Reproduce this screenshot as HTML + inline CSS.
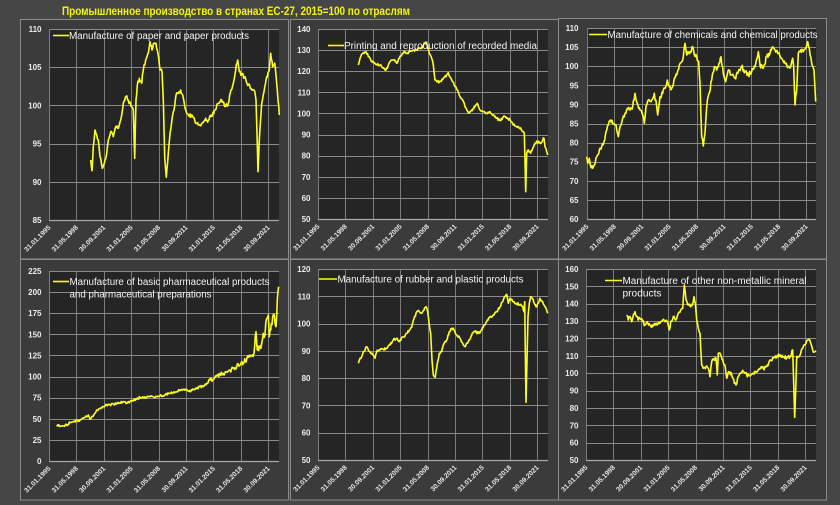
<!DOCTYPE html>
<html><head><meta charset="utf-8">
<style>
html,body{margin:0;padding:0;background:#464646;width:840px;height:505px;overflow:hidden;}
svg{display:block;}
.yt{font-family:"Liberation Sans",sans-serif;font-size:8px;font-weight:bold;fill:#ececec;text-anchor:end;}
.xt{font-family:"Liberation Sans",sans-serif;font-size:6.8px;font-weight:bold;fill:#e8e8e8;text-anchor:end;}
.lg{font-family:"Liberation Sans",sans-serif;font-size:10px;fill:#f4f4f4;}
.ser{fill:none;stroke:#ffff1e;stroke-width:1.6;stroke-linejoin:round;}
.frame{fill:#3b3b3b;stroke:#8c8c8c;stroke-width:1;}
.plot{fill:#252525;}
.lgl{stroke:#ffff1e;stroke-width:1.6;}
</style></head><body>
<svg width="840" height="505" viewBox="0 0 840 505" xmlns="http://www.w3.org/2000/svg">
<rect x="0" y="0" width="840" height="505" fill="#464646"/>
<text x="62" y="15" font-family="'Liberation Sans',sans-serif" font-size="11.5" font-weight="bold" fill="#f5f500" textLength="348" lengthAdjust="spacingAndGlyphs">Промышленное производство в странах ЕС-27, 2015=100 по отраслям</text>

<rect class="frame" x="20.5" y="19.5" width="268" height="239.5"/>
<rect class="frame" x="290.5" y="19.5" width="268" height="239.5"/>
<rect class="frame" x="558.5" y="18.5" width="268" height="240.5"/>
<rect class="frame" x="20.5" y="259.5" width="268" height="240.5"/>
<rect class="frame" x="290.5" y="259.5" width="268" height="240.5"/>
<rect class="frame" x="558.5" y="259.5" width="268" height="240.5"/>

<rect class="plot" x="49" y="29" width="230" height="191"/>
<rect class="plot" x="318" y="29" width="230" height="190"/>
<rect class="plot" x="587" y="28" width="229" height="191"/>
<rect class="plot" x="49" y="271" width="230" height="190"/>
<rect class="plot" x="318" y="269" width="230" height="191"/>
<rect class="plot" x="586" y="269" width="230" height="191"/>

<g id="grids"></g>

<!-- Y tick labels -->
<g class="yt">
<text x="41.5" y="32">110</text><text x="41.5" y="70.2">105</text><text x="41.5" y="108.4">100</text><text x="41.5" y="146.6">95</text><text x="41.5" y="184.8">90</text><text x="41.5" y="223">85</text>
<text x="310.5" y="32">140</text><text x="310.5" y="53.1">130</text><text x="310.5" y="74.2">120</text><text x="310.5" y="95.3">110</text><text x="310.5" y="116.4">100</text><text x="310.5" y="137.6">90</text><text x="310.5" y="158.7">80</text><text x="310.5" y="179.8">70</text><text x="310.5" y="200.9">60</text><text x="310.5" y="222">50</text>
<text x="578.5" y="31">110</text><text x="578.5" y="50.1">105</text><text x="578.5" y="69.2">100</text><text x="578.5" y="88.3">95</text><text x="578.5" y="107.4">90</text><text x="578.5" y="126.5">85</text><text x="578.5" y="145.6">80</text><text x="578.5" y="164.7">75</text><text x="578.5" y="183.8">70</text><text x="578.5" y="202.9">65</text><text x="578.5" y="222">60</text>
<text x="41.5" y="274">225</text><text x="41.5" y="295.1">200</text><text x="41.5" y="316.2">175</text><text x="41.5" y="337.3">150</text><text x="41.5" y="358.4">125</text><text x="41.5" y="379.6">100</text><text x="41.5" y="400.7">75</text><text x="41.5" y="421.8">50</text><text x="41.5" y="442.9">25</text><text x="41.5" y="464">0</text>
<text x="310.5" y="272">120</text><text x="310.5" y="299.3">110</text><text x="310.5" y="326.6">100</text><text x="310.5" y="353.9">90</text><text x="310.5" y="381.1">80</text><text x="310.5" y="408.4">70</text><text x="310.5" y="435.7">60</text><text x="310.5" y="463">50</text>
<text x="578.5" y="272">160</text><text x="578.5" y="289.4">150</text><text x="578.5" y="306.7">140</text><text x="578.5" y="324.1">130</text><text x="578.5" y="341.5">120</text><text x="578.5" y="358.8">110</text><text x="578.5" y="376.2">100</text><text x="578.5" y="393.5">90</text><text x="578.5" y="410.9">80</text><text x="578.5" y="428.3">70</text><text x="578.5" y="445.6">60</text><text x="578.5" y="463">50</text>
</g>

<!-- X tick labels -->
<g class="xt">
<text transform="translate(51,228) rotate(-45)">31.01.1995</text><text transform="translate(78.4,228) rotate(-45)">31.05.1998</text><text transform="translate(105.8,228) rotate(-45)">30.09.2001</text><text transform="translate(133.2,228) rotate(-45)">31.01.2005</text><text transform="translate(160.6,228) rotate(-45)">31.05.2008</text><text transform="translate(188,228) rotate(-45)">30.09.2011</text><text transform="translate(215.4,228) rotate(-45)">31.01.2015</text><text transform="translate(242.8,228) rotate(-45)">31.05.2018</text><text transform="translate(270.2,228) rotate(-45)">30.09.2021</text>
<text transform="translate(320,227) rotate(-45)">31.01.1995</text><text transform="translate(347.4,227) rotate(-45)">31.05.1998</text><text transform="translate(374.8,227) rotate(-45)">30.09.2001</text><text transform="translate(402.2,227) rotate(-45)">31.01.2005</text><text transform="translate(429.6,227) rotate(-45)">31.05.2008</text><text transform="translate(457,227) rotate(-45)">30.09.2011</text><text transform="translate(484.4,227) rotate(-45)">31.01.2015</text><text transform="translate(511.8,227) rotate(-45)">31.05.2018</text><text transform="translate(539.2,227) rotate(-45)">30.09.2021</text>
<text transform="translate(589,227) rotate(-45)">31.01.1995</text><text transform="translate(616.4,227) rotate(-45)">31.05.1998</text><text transform="translate(643.8,227) rotate(-45)">30.09.2001</text><text transform="translate(671.2,227) rotate(-45)">31.01.2005</text><text transform="translate(698.6,227) rotate(-45)">31.05.2008</text><text transform="translate(726,227) rotate(-45)">30.09.2011</text><text transform="translate(753.4,227) rotate(-45)">31.01.2015</text><text transform="translate(780.8,227) rotate(-45)">31.05.2018</text><text transform="translate(808.2,227) rotate(-45)">30.09.2021</text>
<text transform="translate(51,469) rotate(-45)">31.01.1995</text><text transform="translate(78.4,469) rotate(-45)">31.05.1998</text><text transform="translate(105.8,469) rotate(-45)">30.09.2001</text><text transform="translate(133.2,469) rotate(-45)">31.01.2005</text><text transform="translate(160.6,469) rotate(-45)">31.05.2008</text><text transform="translate(188,469) rotate(-45)">30.09.2011</text><text transform="translate(215.4,469) rotate(-45)">31.01.2015</text><text transform="translate(242.8,469) rotate(-45)">31.05.2018</text><text transform="translate(270.2,469) rotate(-45)">30.09.2021</text>
<text transform="translate(320,468) rotate(-45)">31.01.1995</text><text transform="translate(347.4,468) rotate(-45)">31.05.1998</text><text transform="translate(374.8,468) rotate(-45)">30.09.2001</text><text transform="translate(402.2,468) rotate(-45)">31.01.2005</text><text transform="translate(429.6,468) rotate(-45)">31.05.2008</text><text transform="translate(457,468) rotate(-45)">30.09.2011</text><text transform="translate(484.4,468) rotate(-45)">31.01.2015</text><text transform="translate(511.8,468) rotate(-45)">31.05.2018</text><text transform="translate(539.2,468) rotate(-45)">30.09.2021</text>
<text transform="translate(588,468) rotate(-45)">31.01.1995</text><text transform="translate(615.4,468) rotate(-45)">31.05.1998</text><text transform="translate(642.8,468) rotate(-45)">30.09.2001</text><text transform="translate(670.2,468) rotate(-45)">31.01.2005</text><text transform="translate(697.6,468) rotate(-45)">31.05.2008</text><text transform="translate(725,468) rotate(-45)">30.09.2011</text><text transform="translate(752.4,468) rotate(-45)">31.01.2015</text><text transform="translate(779.8,468) rotate(-45)">31.05.2018</text><text transform="translate(807.2,468) rotate(-45)">30.09.2021</text>
</g>

<!-- Series -->
<path id="s1" class="ser" d=""/>
<path id="s2" class="ser" d=""/>
<path id="s3" class="ser" d=""/>
<path id="s4" class="ser" d=""/>
<path id="s5" class="ser" d=""/>
<path id="s6" class="ser" d=""/>

<!-- Legends -->
<line class="lgl" x1="53" y1="35.5" x2="69" y2="35.5"/>
<text class="lg" x="69" y="39" textLength="180" lengthAdjust="spacingAndGlyphs">Manufacture of paper and paper products</text>
<line class="lgl" x1="328" y1="45.5" x2="344" y2="45.5"/>
<text class="lg" x="344" y="49" textLength="193" lengthAdjust="spacingAndGlyphs">Printing and reproduction of recorded media</text>
<line class="lgl" x1="589" y1="34.5" x2="607" y2="34.5"/>
<text class="lg" x="607.5" y="38" textLength="210" lengthAdjust="spacingAndGlyphs">Manufacture of chemicals and chemical products</text>
<line class="lgl" x1="53" y1="281.5" x2="69" y2="281.5"/>
<text class="lg" x="69.5" y="285" textLength="200" lengthAdjust="spacingAndGlyphs">Manufacture of basic pharmaceutical products</text>
<text class="lg" x="69.5" y="297.3" textLength="142" lengthAdjust="spacingAndGlyphs">and pharmaceutical preparations</text>
<line class="lgl" x1="319" y1="279" x2="337" y2="279"/>
<text class="lg" x="337.5" y="282.5" textLength="186" lengthAdjust="spacingAndGlyphs">Manufacture of rubber and plastic products</text>
<line class="lgl" x1="605" y1="280.5" x2="622" y2="280.5"/>
<text class="lg" x="622.5" y="284" textLength="184" lengthAdjust="spacingAndGlyphs">Manufacture of other non-metallic mineral</text>
<text class="lg" x="622.5" y="296.5" textLength="39" lengthAdjust="spacingAndGlyphs">products</text>
</svg>

<script>
(function(){
var NS="http://www.w3.org/2000/svg";
var g=document.getElementById("grids");
function ln(x1,y1,x2,y2,c,w){var l=document.createElementNS(NS,"line");l.setAttribute("x1",x1);l.setAttribute("y1",y1);l.setAttribute("x2",x2);l.setAttribute("y2",y2);l.setAttribute("stroke",c);l.setAttribute("stroke-width",w||1);g.appendChild(l);}
function grid(L,R,T,B,n){
  for(var k=0;k<=8;k++){var x=Math.round(L+k*27.4)+0.5;ln(x,T,x,B,"#7c7c7c",1);}
  for(var i=0;i<n;i++){var y=Math.round(T+(B-T)*i/n)+0.5;ln(L,y,R,y,"#8a8a8a",1);}
  ln(L,B+0.5,R,B+0.5,"#a8a8a8",1.2);
}
grid(49,279,29,220,5);
grid(318,548,29,219,9);
grid(587,816,28,219,10);
grid(49,279,271,461,9);
grid(318,548,269,460,7);
grid(586,816,269,460,11);

function rng(seed){return function(){seed|=0;seed=seed+0x6D2B79F5|0;var t=Math.imul(seed^seed>>>15,1|seed);t=t+Math.imul(t^t>>>7,61|t)^t;return((t^t>>>14)>>>0)/4294967296;};}
function mk(id,ox,oy,pts,ampf,seed){
  var r=rng(seed);
  var P=pts.map(function(p){return [ox+p[0]/3,oy+p[1]/3];});
  var d="M"+P[0][0].toFixed(1)+" "+P[0][1].toFixed(1);
  for(var i=1;i<P.length;i++){
    var a=P[i-1],b=P[i];var n=Math.max(1,Math.round((b[0]-a[0])/0.685));
    for(var k=1;k<=n;k++){var t=k/n;var x=a[0]+(b[0]-a[0])*t;var y=a[1]+(b[1]-a[1])*t;
      if(k<n){y+=(r()*2-1)*ampf(x);}
      d+=" L"+x.toFixed(1)+" "+y.toFixed(1);}
  }
  document.getElementById(id).setAttribute("d",d);
}
var p1=[[272,480],[276,512],[280,440],[285,390],[290,405],[295,420],[300,470],[307,505],[313,490],[320,460],[325,420],[332,395],[340,410],[347,380],[355,385],[362,360],[370,310],[378,290],[385,300],[395,320],[400,330],[404,475],[408,300],[412,255],[418,235],[425,250],[430,210],[437,180],[445,160],[450,125],[456,150],[462,130],[468,130],[472,150],[476,175],[480,210],[486,215],[490,300],[494,470],[499,532],[505,460],[510,400],[515,365],[522,330],[528,285],[535,280],[542,270],[548,285],[553,310],[560,340],[568,350],[575,345],[585,365],[595,375],[605,370],[615,360],[625,360],[635,345],[645,330],[655,310],[665,300],[675,320],[685,310],[693,270],[700,250],[707,210],[713,180],[718,215],[725,225],[735,230],[745,255],[755,270],[762,270],[768,300],[771,400],[774,515],[778,420],[785,310],[792,275],[800,230],[808,210],[812,160],[818,200],[824,190],[830,250],[838,345]];
var p2=[[235,195],[242,170],[250,158],[258,155],[265,170],[275,185],[285,190],[295,195],[305,200],[315,210],[322,205],[330,185],[340,180],[350,190],[358,175],[365,165],[372,155],[380,160],[390,155],[400,150],[410,150],[420,145],[428,140],[435,128],[442,135],[448,160],[455,175],[460,195],[465,240],[470,245],[480,245],[490,235],[500,225],[505,218],[510,230],[518,245],[525,260],[532,270],[540,290],[548,300],[555,320],[565,338],[575,330],[585,320],[592,310],[600,330],[610,335],[620,340],[630,335],[640,345],[650,355],[660,362],[670,350],[680,355],[690,360],[700,375],[710,380],[720,385],[728,395],[733,400],[737,575],[740,460],[745,450],[752,460],[758,445],[765,430],[772,425],[780,430],[788,420],[792,415],[795,440],[800,455],[803,465]];
var p3=[[110,470],[113,490],[118,475],[122,500],[128,505],[133,495],[140,470],[148,450],[155,440],[162,425],[168,395],[175,375],[182,360],[190,370],[198,375],[205,410],[210,380],[218,355],[225,340],[232,325],[240,330],[248,320],[255,280],[262,310],[270,330],[278,345],[283,370],[288,320],[295,300],[305,300],[313,280],[320,320],[323,345],[330,290],[338,280],[345,265],[352,240],[358,260],[365,265],[372,240],[380,225],[388,195],[395,185],[400,170],[405,130],[410,165],[420,155],[428,140],[432,160],[440,170],[446,185],[450,250],[455,410],[460,438],[465,400],[470,320],[477,280],[485,240],[493,200],[500,210],[507,190],[513,170],[520,220],[527,245],[535,210],[545,225],[555,235],[565,215],[575,200],[585,215],[595,225],[605,215],[615,200],[625,155],[630,195],[640,205],[650,170],[660,160],[668,140],[675,150],[685,160],[695,175],[705,190],[715,200],[722,200],[728,175],[731,200],[735,315],[740,270],[745,160],[752,150],[760,155],[767,145],[773,125],[778,145],[785,190],[792,210],[797,305]];
var p4=[[170,525],[180,528],[190,528],[200,525],[210,518],[220,515],[230,512],[240,510],[250,505],[260,500],[265,495],[270,508],[278,500],[285,490],[290,480],[300,475],[310,470],[320,465],[330,465],[340,462],[350,460],[360,458],[370,455],[380,460],[390,455],[400,450],[410,448],[420,442],[430,443],[440,442],[450,440],[460,440],[470,440],[480,437],[490,437],[500,432],[510,430],[520,428],[530,425],[540,420],[550,418],[560,418],[570,425],[580,418],[590,415],[600,410],[610,410],[620,400],[630,390],[640,388],[650,378],[660,372],[670,370],[680,365],[690,360],[700,355],[710,350],[720,345],[730,340],[740,328],[745,322],[750,320],[755,318],[762,310],[768,245],[772,300],[778,290],[785,280],[790,250],[795,255],[800,205],[805,195],[808,260],[812,240],[818,200],[823,195],[828,230],[832,150],[836,110]];
var p5=[[235,340],[240,325],[245,320],[250,305],[255,300],[260,290],[265,300],[272,310],[280,315],[285,325],[290,305],[300,300],[310,298],[320,295],[330,285],[340,270],[350,265],[358,275],[365,262],[372,260],[380,250],[388,240],[395,232],[402,205],[410,185],[418,185],[425,190],[432,180],[438,170],[443,185],[448,225],[452,250],[456,330],[460,375],[466,382],[472,340],[478,310],[485,305],[492,280],[500,270],[508,245],[515,235],[522,240],[530,255],[540,265],[548,280],[556,290],[565,275],[575,255],[585,245],[595,250],[605,240],[612,225],[620,215],[630,200],[640,195],[650,185],[660,170],[668,155],[675,140],[680,133],[685,160],[690,145],[700,155],[710,160],[720,165],[728,170],[732,185],[734,155],[736,300],[738,457],[741,330],[744,200],[748,160],[752,140],[760,150],[768,170],[774,160],[780,145],[786,155],[792,165],[798,175],[803,190]];
var p6=[[230,195],[235,210],[240,200],[245,215],[250,195],[255,185],[260,200],[265,210],[270,205],[278,215],[285,225],[292,215],[300,225],[308,230],[315,220],[322,225],[330,220],[338,210],[345,215],[352,215],[358,240],[362,215],[370,200],[378,210],[385,190],[392,180],[398,175],[403,105],[408,150],[415,165],[422,170],[428,160],[432,140],[436,160],[440,210],[445,235],[450,250],[455,345],[460,355],[468,350],[475,355],[480,380],[485,335],[492,330],[498,325],[502,375],[505,310],[512,315],[518,330],[525,345],[530,385],[537,365],[545,375],[553,400],[558,405],[565,380],[572,370],[580,365],[590,375],[600,378],[610,370],[620,365],[630,355],[640,355],[650,350],[660,330],[670,325],[680,320],[690,315],[700,320],[710,325],[720,320],[728,300],[731,400],[734,502],[737,420],[740,320],[746,320],[752,310],[758,295],[765,285],[772,270],[778,268],[782,280],[788,300],[795,305],[798,302]];
mk("s1",0,0,p1,function(x){return 2.2;},11);
mk("s2",280,0,p2,function(x){return 1.3;},22);
mk("s3",550,0,p3,function(x){return 2.3;},33);
mk("s4",0,250,p4,function(x){return x<200?1.1:1.1+Math.min(3.5,(x-200)/20);},44);
mk("s5",280,250,p5,function(x){return 1.3;},55);
mk("s6",550,250,p6,function(x){return 1.8;},66);
})();
</script>
</body></html>
